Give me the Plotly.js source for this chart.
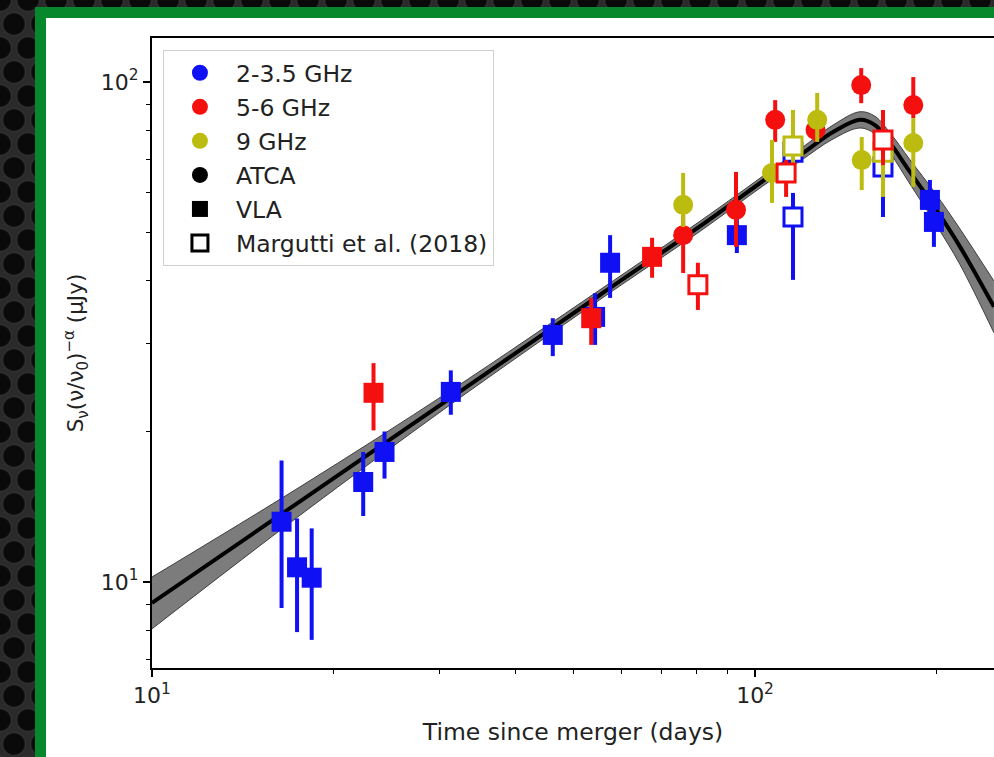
<!DOCTYPE html>
<html>
<head>
<meta charset="utf-8">
<script src="https://cdn.plot.ly/plotly-3.0.1.min.js"></script>
<style>
  html, body { margin:0; padding:0; width:994px; height:757px; overflow:hidden; }
  body {
    background-color:#2a2a2a;
    background-image:
      radial-gradient(circle at 50% 50%, #0a0a0a 0, #0a0a0a 10px, #303030 11.5px, rgba(0,0,0,0) 13px),
      radial-gradient(circle at 50% 50%, #0a0a0a 0, #0a0a0a 10px, #303030 11.5px, rgba(0,0,0,0) 13px);
    background-size: 28px 48px, 28px 48px;
    background-position: 0 0, 14px 24px;
  }
  #frame { position:absolute; left:35px; top:7px; width:1000px; height:800px; background:#08882c; }
  #inner { position:absolute; left:46px; top:18px; width:1000px; height:800px; background:#ffffff; }
  #chart { position:absolute; left:0; top:0; width:994px; height:757px; }
</style>
</head>
<body>
<div id="frame"></div>
<div id="inner"></div>
<div id="chart"></div>
<script>
// ---- model curve (days, uJy) ----
const tModel  = [10, 17.6, 31.2, 55.3, 81.1, 105.9, 118.8, 134.7, 149.3, 158.1, 167.5, 180.7, 198.9, 218.8, 249];
const sModel  = [9.08, 14.5, 23.3, 37.5, 51.5, 64.9, 71.4, 79.4, 84.0, 82.0, 75.5, 66.1, 56.0, 46.8, 35.5];
const sBandHi = [10.23, 15.5, 24.1, 38.4, 52.7, 66.4, 73.4, 82.0, 87.2, 85.4, 79.1, 69.9, 60.0, 50.8, 40.0];
const sBandLo = [8.06, 13.6, 22.6, 36.7, 50.3, 63.4, 69.5, 76.9, 80.9, 78.7, 72.1, 62.5, 52.2, 43.1, 31.5];

// ---- 2-3.5 GHz ----
const tBlueVLA  = [16.4, 17.4, 18.4, 22.4, 24.3, 31.3, 46.2, 54.3, 57.5, 93.3, 195, 198];
const sBlueVLA  = [13.2, 10.7, 10.2, 15.85, 18.2, 24.0, 31.2, 33.9, 43.5, 49.4, 58.1, 52.5];
const hBlueVLA  = [17.5, 13.4, 12.8, 18.2, 20.0, 26.5, 33.7, 37.8, 49.4, 53.2, 63.7, 58.1];
const lBlueVLA  = [8.87, 7.94, 7.66, 13.55, 16.1, 21.6, 28.3, 29.8, 37.0, 45.5, 52.5, 46.8];

const tBlueM = [115.6, 115.6, 163];
const sBlueM = [72.4, 53.7, 67.6];
const hBlueM = [76.0, 60.0, 73.1];
const lBlueM = [68.0, 40.2, 53.7];

// ---- 5-6 GHz ----
const tRedVLA = [23.3, 53.5, 67.5];
const sRedVLA = [23.9, 33.7, 44.7];
const hRedVLA = [27.4, 37.0, 48.8];
const lRedVLA = [20.1, 29.8, 40.6];

const tRedATCA = [76.0, 93.0, 108, 126, 150, 183];
const sRedATCA = [49.4, 55.5, 84.0, 80.2, 98.6, 89.9];
const hRedATCA = [54.2, 66.1, 92.0, 86.0, 106.6, 102.3];
const lRedATCA = [41.5, 46.8, 75.9, 76.0, 90.7, 84.7];

const tRedM = [80.4, 112.6, 163];
const sRedM = [39.3, 65.8, 76.6];
const hRedM = [43.5, 69.8, 87.9];
const lRedM = [35.0, 58.9, 68.2];

// ---- 9 GHz ----
const tOliveATCA = [76.0, 106.7, 126.8, 150.3, 183];
const sOliveATCA = [56.8, 65.8, 84.0, 69.8, 75.5];
const hOliveATCA = [65.8, 76.6, 95.1, 77.6, 84.7];
const lOliveATCA = [51.3, 57.3, 75.9, 60.8, 61.7];

const tOliveM = [115.6, 163];
const sOliveM = [74.5, 72.4];
const hOliveM = [87.9, 87.9];
const lOliveM = [65.2, 58.9];

// ---- legend / ticks ----
const legendNames = ['2-3.5 GHz', '5-6 GHz', '9 GHz', 'ATCA', 'VLA', 'Margutti et al. (2018)'];
const xTickVals = [10, 100];
const xTickText = ['10<sup>1</sup>', '10<sup>2</sup>'];
const xMinor = [20, 30, 40, 50, 60, 70, 80, 90, 200];
const yTickVals = [10, 100];
const yTickText = ['10<sup>1</sup>', '10<sup>2</sup>'];
const yMinor = [7, 8, 9, 20, 30, 40, 50, 60, 70, 80, 90];

const BLUE = '#1010f5', RED = '#f51010', OLIVE = '#bcbc10';
const FONT = 'DejaVu Sans, sans-serif';

function errTrace(t, s, hi, lo, color, symbol, open) {
  return {
    x: t, y: s, type: 'scatter', mode: 'markers', showlegend: false, hoverinfo: 'skip',
    marker: open
      ? { symbol: 'square', size: 18, color: '#ffffff', line: { color: color, width: 3 } }
      : { symbol: symbol, size: 20, color: color, line: { width: 0 } },
    error_y: {
      type: 'data', symmetric: false,
      array: hi.map((h, i) => h - s[i]),
      arrayminus: lo.map((l, i) => s[i] - l),
      color: color, thickness: 4, width: 0
    }
  };
}

const traces = [];
traces.push({ x: tModel, y: sBandLo, type: 'scatter', mode: 'lines', line: { color: '#404040', width: 1, shape: 'spline' }, showlegend: false, hoverinfo: 'skip' });
traces.push({ x: tModel, y: sBandHi, type: 'scatter', mode: 'lines', fill: 'tonexty', fillcolor: '#7c7c7c', line: { color: '#404040', width: 1, shape: 'spline' }, showlegend: false, hoverinfo: 'skip' });
traces.push({ x: tModel, y: sModel, type: 'scatter', mode: 'lines', line: { color: '#000000', width: 4, shape: 'spline' }, showlegend: false, hoverinfo: 'skip' });

traces.push(errTrace(tBlueVLA, sBlueVLA, hBlueVLA, lBlueVLA, BLUE, 'square', false));
traces.push(errTrace(tBlueM, sBlueM, hBlueM, lBlueM, BLUE, 'square', true));
traces.push(errTrace(tRedVLA, sRedVLA, hRedVLA, lRedVLA, RED, 'square', false));
traces.push(errTrace(tRedATCA, sRedATCA, hRedATCA, lRedATCA, RED, 'circle', false));
traces.push(errTrace(tOliveATCA, sOliveATCA, hOliveATCA, lOliveATCA, OLIVE, 'circle', false));
traces.push(errTrace(tOliveM, sOliveM, hOliveM, lOliveM, OLIVE, 'square', true));
traces.push(errTrace(tRedM, sRedM, hRedM, lRedM, RED, 'square', true));

// legend-only entries
const legMarkers = [
  { symbol: 'circle', color: BLUE },
  { symbol: 'circle', color: RED },
  { symbol: 'circle', color: OLIVE },
  { symbol: 'circle', color: '#000000' },
  { symbol: 'square', color: '#000000' },
  { symbol: 'square-open', color: '#000000', line: { color: '#000000', width: 3 } }
];
legendNames.forEach((name, i) => {
  traces.push({
    x: [null], y: [null], type: 'scatter', mode: 'markers', name: name,
    legendgroup: 'g' + i,
    marker: Object.assign({ size: 20 }, legMarkers[i])
  });
});

const layout = {
  width: 994, height: 757,
  margin: { l: 152, r: 0, t: 38, b: 89, pad: 0 },
  paper_bgcolor: 'rgba(0,0,0,0)',
  plot_bgcolor: '#ffffff',
  font: { family: FONT, color: '#222222', size: 20 },
  showlegend: true,
  legend: {
    x: 0.013, y: 0.981, xanchor: 'left', yanchor: 'top',
    bgcolor: 'rgba(255,255,255,0.9)', bordercolor: '#d0d0d0', borderwidth: 1,
    font: { family: FONT, size: 23.5, color: '#222222' },
    itemwidth: 62, traceorder: 'grouped', tracegroupgap: 0.5
  },
  xaxis: {
    type: 'log', range: [1, 2.3963], autorange: false,
    showline: true, linecolor: '#000000', linewidth: 2, mirror: true,
    ticks: 'outside', ticklen: 7, tickwidth: 1.5, tickcolor: '#000000',
    tickmode: 'array', tickvals: xTickVals, ticktext: xTickText,
    minor: { tickmode: 'array', tickvals: xMinor, ticks: 'outside', ticklen: 4, tickwidth: 1, tickcolor: '#000000', showgrid: false },
    showgrid: false, zeroline: false,
    tickfont: { family: FONT, size: 22, color: '#222222' },
    title: { text: 'Time since merger (days)', font: { family: FONT, size: 23.5, color: '#222222' }, standoff: 16 }
  },
  yaxis: {
    type: 'log', range: [0.828, 2.088], autorange: false,
    showline: true, linecolor: '#000000', linewidth: 2, mirror: false,
    ticks: 'outside', ticklen: 7, tickwidth: 1.5, tickcolor: '#000000',
    tickmode: 'array', tickvals: yTickVals, ticktext: yTickText,
    minor: { tickmode: 'array', tickvals: yMinor, ticks: 'outside', ticklen: 4, tickwidth: 1, tickcolor: '#000000', showgrid: false },
    showgrid: false, zeroline: false,
    tickfont: { family: FONT, size: 22, color: '#222222' },
    title: { text: 'S<sub>ν</sub>(ν/ν<sub>0</sub>)<sup>−α</sup> (μJy)', font: { family: FONT, size: 21.5, color: '#222222' }, standoff: 11 }
  }
};

Plotly.newPlot('chart', traces, layout, { displayModeBar: false, staticPlot: true });
</script>
</body>
</html>
